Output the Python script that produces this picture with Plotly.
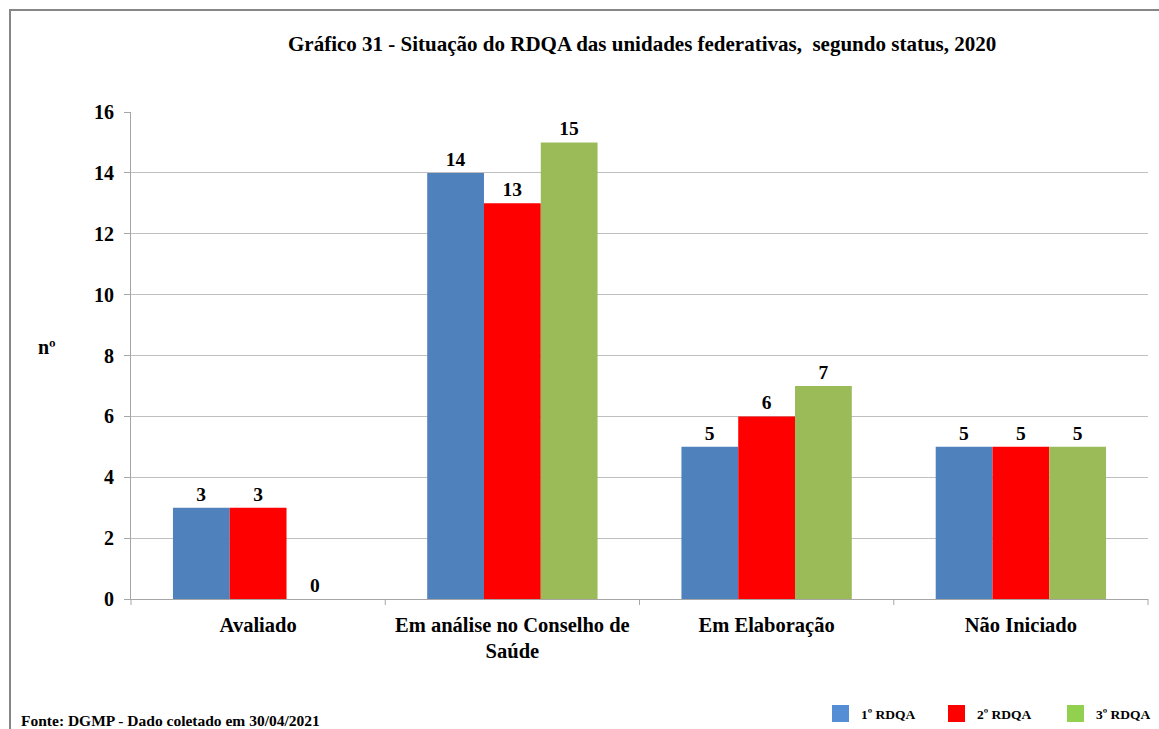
import plotly.graph_objects as go

categories = ["Avaliado", "Em análise no Conselho de<br>Saúde", "Em Elaboração", "Não Iniciado"]
series_names = ["1º RDQA", "2º RDQA", "3º RDQA"]
rdqa1 = [3, 14, 5, 5]
rdqa2 = [3, 13, 6, 5]
rdqa3 = [0, 15, 7, 5]
colors = ["#4F81BD", "#FF0000", "#9BBB59"]
legend_colors = ["#558ED5", "#FF0000", "#92D050"]
y_ticks = [0, 2, 4, 6, 8, 10, 12, 14, 16]

FONT = "Liberation Serif"

fig = go.Figure()
for name, vals, col in zip(series_names, [rdqa1, rdqa2, rdqa3], colors):
    fig.add_trace(go.Bar(
        x=categories, y=vals, name=name,
        marker=dict(color=col, line=dict(width=0)),
        text=[str(v) for v in vals], textposition="outside",
        texttemplate="<b>%{text}</b>",
        textfont=dict(family=FONT, size=19.5, color="black"),
        cliponaxis=False,
    ))

L, R, T, B = 131, 11, 112, 130
W, H = 1159, 729
pw = W - L - R
ph = H - T - B

def px(x):
    return (x - L) / pw

def py(y):
    return (H - B - y) / ph

fig.update_layout(
    width=W, height=H,
    margin=dict(l=L, r=R, t=T, b=B, autoexpand=False),
    paper_bgcolor="white", plot_bgcolor="white",
    barmode="group", bargap=0.33, bargroupgap=0,
    font=dict(family=FONT, color="black"),
    showlegend=False,
    xaxis=dict(
        showgrid=False, showline=True, linecolor="#A6A6A6", linewidth=1,
        ticks="", tickfont=dict(family=FONT, size=20.5, color="black", weight="bold"),
        ticklabelstandoff=7,
    ),
    yaxis=dict(
        range=[0, 16], tickvals=y_ticks, showgrid=True, gridcolor="#BFBFBF", gridwidth=1,
        showline=True, linecolor="#A6A6A6", linewidth=1,
        ticks="outside", ticklen=6, tickcolor="#A6A6A6",
        tickfont=dict(family=FONT, size=20, color="black", weight="bold"),
        zeroline=False, ticklabelstandoff=6,
    ),
)

# category separator ticks on the x axis
for i in range(len(categories) + 1):
    fig.add_shape(type="line", xref="paper", yref="paper",
                  x0=i / len(categories), x1=i / len(categories), y0=0, y1=-6 / ph,
                  line=dict(color="#A6A6A6", width=1))

# outer border
fig.add_shape(type="rect", xref="paper", yref="paper",
              x0=px(10), x1=px(1170), y0=py(10), y1=py(740),
              line=dict(color="#868686", width=2), layer="below")

fig.add_annotation(text="<b>Gráfico 31 - Situação do RDQA das unidades federativas,  segundo status, 2020</b>",
                   xref="paper", yref="paper", x=px(642), y=py(44), showarrow=False,
                   xanchor="center", yanchor="middle",
                   font=dict(family=FONT, size=21, color="black"))
fig.add_annotation(text="<b>nº</b>", xref="paper", yref="paper", x=px(47), y=py(347),
                   showarrow=False, xanchor="center", yanchor="middle",
                   font=dict(family=FONT, size=20, color="black"))
fig.add_annotation(text="<b>Fonte: DGMP - Dado coletado em 30/04/2021</b>", xref="paper", yref="paper",
                   x=px(19), y=py(720), showarrow=False, xanchor="left", yanchor="middle",
                   font=dict(family=FONT, size=15.5, color="black"))

# manual legend
leg_x = [832, 948, 1067]
for name, col, lx in zip(series_names, legend_colors, leg_x):
    fig.add_shape(type="rect", xref="paper", yref="paper",
                  x0=px(lx), x1=px(lx + 17), y0=py(705), y1=py(722),
                  line=dict(width=0), fillcolor=col)
    fig.add_annotation(text="<b>" + name + "</b>", xref="paper", yref="paper",
                       x=px(lx + 27), y=py(714), showarrow=False, xanchor="left", yanchor="middle",
                       font=dict(family=FONT, size=13.5, color="black"))

fig.write_html("out.html")
